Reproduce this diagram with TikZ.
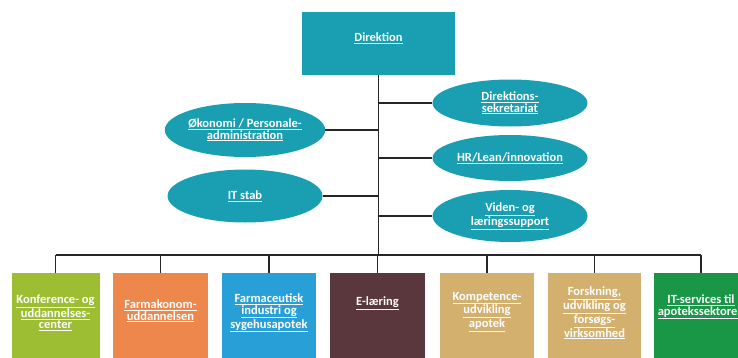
\documentclass[tikz,border=0pt]{standalone}
\usepackage{fontspec}
\setmainfont{Carlito}
\usepackage{tikz}
\usetikzlibrary{shapes.geometric}

\definecolor{staffteal}{HTML}{1A9EB2}
\definecolor{unitlime}{HTML}{9DBE32}
\definecolor{unitorange}{HTML}{EE874B}
\definecolor{unitblue}{HTML}{28A0D7}
\definecolor{unitbrown}{HTML}{5A373C}
\definecolor{unittan}{HTML}{D4B06E}
\definecolor{unitgreen}{HTML}{199646}

\newcommand{\utxt}[1]{\underline{#1}}

\tikzset{
	orgfont/.style={font=\bfseries\fontsize{12.5}{11.5}\selectfont},
	orgline/.style={line width=1.3pt, draw=black!85},
	staff/.style={ellipse, fill=staffteal, minimum width=155pt, minimum height=50pt,
		inner sep=0pt, text=white, align=center, orgfont},
	unit/.style={rectangle, minimum width=94pt, minimum height=110pt, anchor=north, inner sep=0pt},
	unittext/.style={text=white, align=center, orgfont}
}

\begin{document}
\begin{tikzpicture}[x=1pt,y=1pt]
	\clip (0,0) rectangle (738,357);
	
	%top box
	\node[fill=staffteal, minimum width=153pt, minimum height=63pt, inner sep=0pt,
		text=white, text depth=13pt, orgfont] (dir) at (378.5,313.5) {\utxt{Direktion}};
	
	%staff ellipses
	\node[staff, minimum height=47pt] (sekr)  at (510,254) {\utxt{Direktions-}\\\utxt{sekretariat}};
	\node[staff, minimum height=54pt] (oek)   at (245,227) {\utxt{Økonomi / Personale-}\\\utxt{administration}};
	\node[staff, minimum height=46pt] (hr)    at (510,199) {\utxt{HR/Lean/innovation}};
	\node[staff, minimum height=53pt] (it)    at (245,161) {\utxt{IT stab}};
	\node[staff, minimum height=52pt] (viden) at (510,141) {\utxt{Viden- og}\\\utxt{læringssupport}};
	
	%unit boxes
	\node[unit, minimum width=88pt, fill=unitlime] (konf)  at (55.5,84)  {};
	\node[unit, minimum width=95pt, fill=unitorange] (farmk) at (160.5,84) {};
	\node[unit, fill=unitblue]  (farmi) at (269,84)   {};
	\node[unit, minimum width=95pt, fill=unitbrown] (elaer) at (377.5,84) {};
	\node[unit, fill=unittan]   (komp)  at (487,84)   {};
	\node[unit, minimum width=93pt, fill=unittan] (forsk) at (594.5,84) {};
	\node[unit, fill=unitgreen] (itserv) at (701,84)  {};
	
	%unit labels
	\node[unittext] (konft)   at (55.5,44)  {\utxt{Konference- og}\\\utxt{uddannelses-}\\\utxt{center}};
	\node[unittext] (farmkt)  at (160.5,46) {\utxt{Farmakonom-}\\\utxt{uddannelsen}};
	\node[unittext] (farmit)  at (269,44)   {\utxt{Farmaceutisk}\\\utxt{industri og}\\\utxt{sygehusapotek}};
	\node[unittext] (elaert)  at (377.5,54) {\utxt{E-læring}};
	\node[unittext] (kompt)   at (487,45)   {\utxt{Kompetence-}\\\utxt{udvikling}\\\utxt{apotek}};
	\node[unittext] (forskt)  at (594.5,44) {\utxt{Forskning,}\\\utxt{udvikling og}\\\utxt{forsøgs-}\\\utxt{virksomhed}};
	\node[unittext] (itservt) at (701,50)   {\utxt{IT-services til}\\\utxt{apotekssektoren}};
	
	%lines
	\coordinate (bus) at (378.5,102);
	\draw[orgline] (dir.south) -- (dir.south |- bus);
	\draw[orgline] (konf.north |- bus) -- (itserv.north |- bus);
	\draw[orgline] (sekr.west)  -- (sekr.west -| dir.south);
	\draw[orgline] (hr.west)    -- (hr.west -| dir.south);
	\draw[orgline] (viden.west) -- (viden.west -| dir.south);
	\draw[orgline] (oek.east)   -- (oek.east -| dir.south);
	\draw[orgline] (it.east)    -- (it.east -| dir.south);
	\foreach \u in {konf,farmk,farmi,elaer,komp,forsk,itserv}
		\draw[orgline] (\u.north |- bus) -- (\u.north);
\end{tikzpicture}
\end{document}
